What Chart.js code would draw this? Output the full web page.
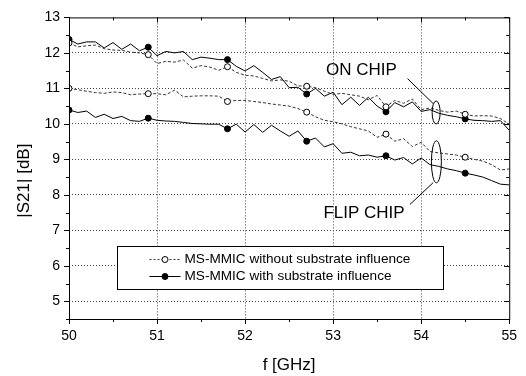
<!DOCTYPE html>
<html>
<head>
<meta charset="utf-8">
<script src="https://cdn.jsdelivr.net/npm/chart.js@4.4.1/dist/chart.umd.min.js"></script>
<style>
    html, body { margin: 0; padding: 0; background: #fff; }
</style>
</head>
<body>
<canvas id="s21Chart" width="526" height="376"></canvas>
<script>
// |S21| vs frequency, sampled every 0.1 GHz from 50 to 55 GHz
const F_START = 50;
const F_STEP = 0.1;

const onChipWithout = [12.28, 12.17, 12.20, 12.22, 12.12, 12.08, 12.07, 12.02, 12.00, 11.95,
    11.70, 11.76, 11.74, 11.80, 11.57, 11.64, 11.60, 11.51, 11.61,
    11.45, 11.37, 11.35, 11.28, 11.21, 11.24, 11.20, 11.07, 11.06,
    11.02, 10.92, 10.83, 10.86, 10.82, 10.78, 10.68, 10.80, 10.48,
    10.66, 10.58, 10.70, 10.40, 10.45, 10.38, 10.33, 10.36, 10.27,
    10.22, 10.23, 10.22, 10.15, 9.99];
const flipChipWithout = [11.00, 10.96, 10.92, 10.88, 10.86, 10.90, 10.88, 10.82, 10.84, 10.85,
    10.85, 10.82, 10.95, 10.76, 10.78, 10.79, 10.79, 10.78, 10.63,
    10.66, 10.66, 10.63, 10.60, 10.56, 10.53, 10.50, 10.43, 10.33,
    10.20, 10.10, 10.06, 10.00, 9.92, 9.86, 9.80, 9.62, 9.71,
    9.51, 9.58, 9.36, 9.48, 9.22, 9.18, 9.15, 9.12, 9.06,
    9.00, 8.95, 8.85, 8.70, 8.73];
const onChipWith = [12.38, 12.25, 12.31, 12.31, 12.14, 12.29, 12.10, 12.25, 12.06, 12.16,
    11.92, 12.04, 12.00, 12.04, 11.81, 11.88, 11.85, 11.81, 11.81,
    11.62, 11.49, 11.64, 11.45, 11.25, 11.33, 11.02, 11.03, 10.84,
    11.00, 10.78, 10.89, 10.54, 10.75, 10.52, 10.75, 10.50, 10.34,
    10.60, 10.48, 10.62, 10.35, 10.40, 10.30, 10.24, 10.20, 10.14,
    10.10, 10.09, 10.07, 10.09, 9.82];
const flipChipWith = [10.39, 10.32, 10.36, 10.18, 10.27, 10.15, 10.21, 10.09, 10.07, 10.16,
    10.10, 10.08, 10.07, 10.04, 10.01, 10.00, 9.99, 9.99, 9.86,
    9.99, 9.77, 9.98, 9.76, 9.96, 9.80, 9.65, 9.80, 9.51,
    9.60, 9.35, 9.44, 9.17, 9.20, 9.10, 9.12, 9.06, 9.10,
    8.98, 9.05, 8.87, 9.04, 8.85, 8.80, 8.73, 8.68, 8.61,
    8.56, 8.50, 8.40, 8.30, 8.28];

const markerFreqs = [50, 50.9, 51.8, 52.7, 53.6, 54.5];
const xTicks = [50, 51, 52, 53, 54, 55];
const yTicks = [5, 6, 7, 8, 9, 10, 11, 12, 13];
const legendNames = ['MS-MMIC without substrate influence', 'MS-MMIC with substrate influence'];
const yTitle = '|S21| [dB]';

const FONT = '"Liberation Sans", Arial, Helvetica, sans-serif';

function toPoints(values) {
    return values.map((v, i) => ({ x: Math.round((F_START + i * F_STEP) * 10) / 10, y: v }));
}

function isMarker(ctx) {
    const p = ctx.raw;
    return p && markerFreqs.some(f => Math.abs(f - p.x) < 1e-6);
}

function makeSet(label, values, dashed) {
    return {
        label: label,
        data: toPoints(values),
        borderColor: dashed ? '#333' : '#000',
        borderWidth: 1,
        borderDash: dashed ? [3, 2] : [],
        backgroundColor: dashed ? '#fff' : '#000',
        pointBorderColor: '#000',
        pointBorderWidth: 1,
        pointRadius: ctx => isMarker(ctx) ? 3 : 0,
        pointHoverRadius: 0,
        tension: 0,
        fill: false
    };
}

// frame, minor ticks, y title, legend box and ON CHIP / FLIP CHIP notes
const framePlugin = {
    id: 'framePlugin',
    afterDraw(chart) {
        const { ctx, chartArea: a, scales: { x, y } } = chart;
        ctx.save();
        ctx.strokeStyle = '#000';
        ctx.fillStyle = '#000';
        ctx.lineWidth = 1;
        ctx.setLineDash([]);
        ctx.strokeRect(a.left + 0.5, a.top + 0.5, a.right - a.left, a.bottom - a.top);

        ctx.beginPath();
        for (let i = 0; i <= 10; i++) {
            const px = Math.round(x.getPixelForValue(50 + i * 0.5)) + 0.5;
            const len = i % 2 === 0 ? 5 : 3;
            ctx.moveTo(px, a.bottom); ctx.lineTo(px, a.bottom + len);
            ctx.moveTo(px, a.top); ctx.lineTo(px, a.top + len);
        }
        for (let i = 0; i <= 17; i++) {
            const v = 4.5 + i * 0.5;
            const py = Math.round(y.getPixelForValue(v)) + 0.5;
            const len = Number.isInteger(v) ? 5 : 3;
            ctx.moveTo(a.left - len, py); ctx.lineTo(a.left, py);
            ctx.moveTo(a.right - len, py); ctx.lineTo(a.right, py);
        }
        ctx.stroke();

        // y axis title, sits a little below the middle like the original
        ctx.save();
        ctx.translate(24, y.getPixelForValue(8.4));
        ctx.rotate(-Math.PI / 2);
        ctx.font = '17px ' + FONT;
        ctx.textAlign = 'center';
        ctx.textBaseline = 'middle';
        ctx.fillText(yTitle, 0, 0);
        ctx.restore();

        // legend
        const bl = Math.round(x.getPixelForValue(50.55)) + 0.5;
        const br = Math.round(x.getPixelForValue(54.25)) + 0.5;
        const bt = Math.round(y.getPixelForValue(6.55)) + 0.5;
        const bb = Math.round(y.getPixelForValue(5.35)) + 0.5;
        ctx.fillStyle = '#fff';
        ctx.fillRect(bl, bt, br - bl, bb - bt);
        ctx.strokeRect(bl, bt, br - bl, bb - bt);
        ctx.font = '13.6px ' + FONT;
        ctx.textBaseline = 'middle';
        legendNames.forEach((name, k) => {
            const ry = Math.round(bt + 12 + k * 17.5) + 0.5;
            ctx.setLineDash(k === 0 ? [2, 2] : []);
            ctx.strokeStyle = k === 0 ? '#333' : '#000';
            ctx.beginPath();
            ctx.moveTo(bl + 32, ry); ctx.lineTo(bl + 63, ry);
            ctx.stroke();
            ctx.setLineDash([]);
            ctx.strokeStyle = '#000';
            ctx.beginPath();
            ctx.arc(bl + 47.5, ry, 3, 0, Math.PI * 2);
            ctx.fillStyle = k === 0 ? '#fff' : '#000';
            ctx.fill();
            ctx.stroke();
            ctx.fillStyle = '#000';
            ctx.fillText(name, bl + 67, ry);
        });

        // annotations
        ctx.font = '17px ' + FONT;
        ctx.textBaseline = 'alphabetic';
        ctx.fillText('ON CHIP', x.getPixelForValue(52.92), y.getPixelForValue(11.37));
        ctx.fillText('FLIP CHIP', x.getPixelForValue(52.89), y.getPixelForValue(7.36));
        ctx.beginPath();
        ctx.moveTo(x.getPixelForValue(53.845), y.getPixelForValue(11.275));
        ctx.lineTo(x.getPixelForValue(54.136), y.getPixelForValue(10.571));
        ctx.moveTo(x.getPixelForValue(53.872), y.getPixelForValue(7.726));
        ctx.lineTo(x.getPixelForValue(54.136), y.getPixelForValue(8.343));
        ctx.stroke();
        ctx.beginPath();
        ctx.ellipse(x.getPixelForValue(54.17), y.getPixelForValue(10.32), 4, 11.5, 0, 0, Math.PI * 2);
        ctx.stroke();
        ctx.beginPath();
        ctx.ellipse(x.getPixelForValue(54.173), y.getPixelForValue(8.93), 5, 21, 0, 0, Math.PI * 2);
        ctx.stroke();
        ctx.restore();
    }
};

const gridColor = ctx => (ctx.tick && (ctx.tick.value === 50 || ctx.tick.value === 55 || ctx.tick.value === 13)) ? 'rgba(0,0,0,0)' : '#444';

new Chart(document.getElementById('s21Chart'), {
    type: 'line',
    data: {
        datasets: [
            makeSet(legendNames[0] + ' (on chip)', onChipWithout, true),
            makeSet(legendNames[0] + ' (flip chip)', flipChipWithout, true),
            makeSet(legendNames[1] + ' (on chip)', onChipWith, false),
            makeSet(legendNames[1] + ' (flip chip)', flipChipWith, false)
        ]
    },
    options: {
        responsive: false,
        animation: false,
        layout: { padding: { top: 10, right: 14, left: 0, bottom: 0 } },
        plugins: {
            legend: { display: false },
            tooltip: { enabled: false }
        },
        scales: {
            x: {
                type: 'linear',
                min: 50,
                max: 55,
                afterBuildTicks: s => { s.ticks = xTicks.map(v => ({ value: v })); },
                afterFit: s => { s.height = 57; },
                grid: { color: gridColor, lineWidth: 1, drawTicks: false },
                border: { display: false, dash: [1, 2] },
                ticks: { color: '#000', padding: 9, maxRotation: 0, font: { family: FONT, size: 14 } },
                title: { display: true, text: 'f [GHz]', color: '#000', padding: { top: 0, bottom: 0 }, font: { family: FONT, size: 17 } }
            },
            y: {
                type: 'linear',
                min: 4.5,
                max: 13,
                afterBuildTicks: s => { s.ticks = yTicks.map(v => ({ value: v })); },
                afterFit: s => { s.width = 69; },
                grid: { color: gridColor, lineWidth: 1, drawTicks: false },
                border: { display: false, dash: [1, 2] },
                ticks: { color: '#000', padding: 9, font: { family: FONT, size: 14 } },
                title: { display: false }
            }
        }
    },
    plugins: [framePlugin]
});
</script>
</body>
</html>
